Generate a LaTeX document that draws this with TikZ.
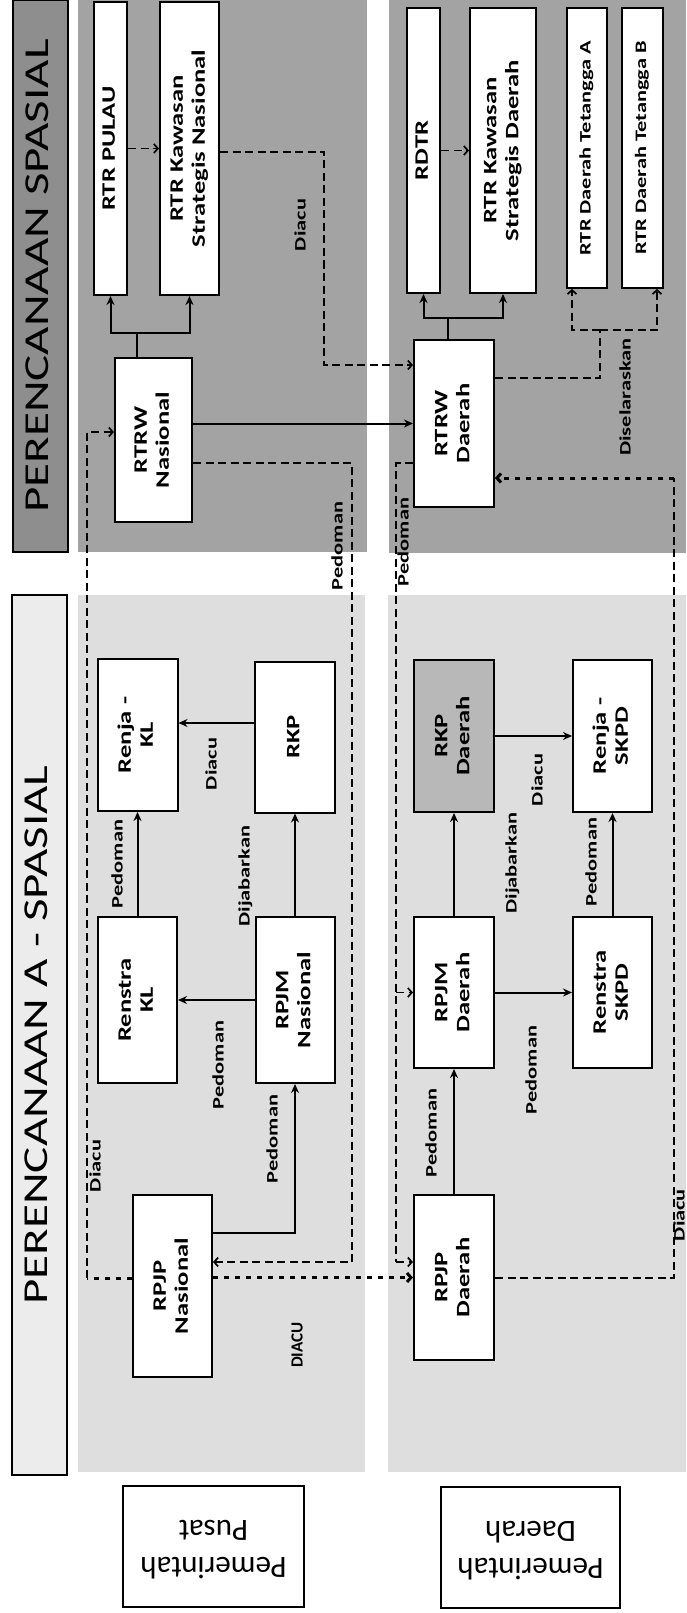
\documentclass[tikz,border=0pt]{standalone}
\usepackage{fontspec}
\setmainfont{Carlito}
\usepackage{graphicx}
\usetikzlibrary{arrows.meta}

\definecolor{paneldark}{HTML}{A3A3A3}
\definecolor{panellight}{HTML}{DEDEDE}
\definecolor{hdrdark}{HTML}{8E8E8E}
\definecolor{hdrlight}{HTML}{ECECEC}
\definecolor{boxgray}{HTML}{B8B8B8}

% vertical, stretched text (reads bottom to top)
\newcommand{\vt}[1]{\rotatebox{90}{\scalebox{1.4}[1]{\begin{tabular}{@{}c@{}}#1\end{tabular}}}}

\begin{document}
\begin{tikzpicture}[x=1pt, y=-1pt,
  box/.style={draw, line width=2pt, fill=white, inner sep=0pt, font=\bfseries\fontsize{19}{22}\selectfont},
  hdr/.style={draw, line width=1.5pt, inner sep=0pt, font=\fontsize{35}{38}\selectfont},
  pbox/.style={draw, line width=2pt, fill=white, inner sep=0pt, font=\fontsize{31}{37}\selectfont},
  lbl/.style={inner sep=0pt, font=\bfseries\fontsize{16}{18}\selectfont},
  conn/.style={line width=2pt},
  arr/.style={line width=2pt, -{Stealth[length=9pt, width=8pt]}},
  dashline/.style={line width=1.7pt, dash pattern=on 8pt off 4.5pt},
  dotline/.style={line width=3pt, dash pattern=on 5pt off 6pt},
  tip/.style={-{Straight Barb[length=4pt, width=9pt]}}]

  \useasboundingbox (0,0) rectangle (686,1613);
  \fill[white] (0,0) rectangle (686,1613);

  % Background panels
  \fill[paneldark] (78,0) rectangle (367,552);
  \fill[paneldark] (389,0) rectangle (686,553);
  \fill[panellight] (78,595) rectangle (365,1472);
  \fill[panellight] (388,595) rectangle (686,1472);

  % Headers
  \node[hdr, fill=hdrdark, minimum width=55, minimum height=552] (hspasial) at (40.5,276) {\vt{PERENCANAAN SPASIAL}};
  \node[hdr, fill=hdrlight, minimum width=55, minimum height=880] (hnonspasial) at (39.5,1035) {\vt{PERENCANAAN A - SPASIAL}};

  % Spatial plans
  \node[box, minimum width=33, minimum height=293] (rtrpulau) at (110.5,148.5) {\vt{RTR PULAU}};
  \node[box, minimum width=59, minimum height=293] (rtrksn) at (189.5,148.5) {\vt{RTR Kawasan\\Strategis Nasional}};
  \node[box, minimum width=77, minimum height=164] (rtrwn) at (153.5,440) {\vt{RTRW\\Nasional}};
  \node[box, minimum width=33, minimum height=285] (rdtr) at (423.5,150.5) {\vt{RDTR}};
  \node[box, minimum width=66, minimum height=285] (rtrksd) at (503,150.5) {\vt{RTR Kawasan\\Strategis Daerah}};
  \node[box, minimum width=40, minimum height=280, font=\bfseries\fontsize{16}{18}\selectfont] (teta) at (587,148) {\vt{RTR Daerah Tetangga A}};
  \node[box, minimum width=41, minimum height=280, font=\bfseries\fontsize{16}{18}\selectfont] (tetb) at (642.5,148) {\vt{RTR Daerah Tetangga B}};
  \node[box, minimum width=80, minimum height=167] (rtrwd) at (454,423.5) {\vt{RTRW\\Daerah}};

  % Development plans
  \node[box, minimum width=80, minimum height=152] (renjakl) at (137.5,735) {\vt{Renja -\\KL}};
  \node[box, minimum width=80, minimum height=151] (rkp) at (295,737) {\vt{RKP}};
  \node[box, minimum width=79, minimum height=166] (renstrakl) at (137.5,1000) {\vt{Renstra\\KL}};
  \node[box, minimum width=79, minimum height=166] (rpjmn) at (295,1000) {\vt{RPJM\\Nasional}};
  \node[box, minimum width=79, minimum height=182] (rpjpn) at (172.5,1286) {\vt{RPJP\\Nasional}};
  \node[box, fill=boxgray, minimum width=80, minimum height=152] (rkpd) at (454,736) {\vt{RKP\\Daerah}};
  \node[box, minimum width=79, minimum height=152] (renjaskpd) at (612.5,736) {\vt{Renja -\\SKPD}};
  \node[box, minimum width=80, minimum height=151] (rpjmd) at (454,992.5) {\vt{RPJM\\Daerah}};
  \node[box, minimum width=79, minimum height=151] (renstraskpd) at (612.5,992.5) {\vt{Renstra\\SKPD}};
  \node[box, minimum width=80, minimum height=165] (rpjpd) at (454,1277.5) {\vt{RPJP\\Daerah}};

  % Government levels
  \node[pbox, minimum width=181, minimum height=121] (ppusat) at (213.5,1546.5) {\rotatebox{180}{\begin{tabular}{@{}c@{}}Pemerintah\\Pusat\end{tabular}}};
  \node[pbox, minimum width=179, minimum height=121] (pdaerah) at (530.5,1547.5) {\rotatebox{180}{\begin{tabular}{@{}c@{}}Pemerintah\\Daerah\end{tabular}}};

  % Junctions and corners
  \coordinate (j1) at (137,333);
  \coordinate (j2) at (448,318);
  \coordinate (k1) at (324,152);
  \coordinate (k2) at (324,365);
  \coordinate (s1) at (600,378);
  \coordinate (s2) at (600,330);
  \coordinate (a1) at (87,1278);
  \coordinate (a2) at (87,432);
  \coordinate (p1) at (352,463);
  \coordinate (p2) at (352,1262);
  \coordinate (q1) at (396,463);
  \coordinate (q2) at (396,1262);
  \coordinate (r1) at (674,1278);
  \coordinate (r2) at (674,478);

  % Spatial connectors
  \draw[conn] (j1) -- (j1 |- rtrwn.north);
  \draw[arr] (j1) -| (rtrpulau);
  \draw[arr] (j1) -| (rtrksn);
  \draw[conn] (j2) -- (j2 |- rtrwd.north);
  \draw[arr] (j2) -| (rdtr);
  \draw[arr] (j2) -| (rtrksd);
  \draw[dashline, tip] (rtrpulau) -- (rtrksn);
  \draw[dashline, tip] (rdtr) -- (rtrksd);
  \draw[arr] (rtrwn.east |- rtrwd.west) -- (rtrwd.west);
  \draw[dashline, tip] (k1 -| rtrksn.east) -- (k1) -- (k2) -- (k2 -| rtrwd.west);
  \draw[dashline] (s1 -| rtrwd.east) -- (s1) -- (s2);
  \draw[dashline, tip] (s2) -| ([xshift=6pt]teta.south west);
  \draw[dashline, tip] (s2) -| ([xshift=-7pt]tetb.south east);

  % Development connectors
  \draw[arr] ([yshift=14pt]rkp.west) -- ([yshift=14pt]rkp.west -| renjakl.east);
  \draw[arr] (renstrakl) -- (renjakl);
  \draw[arr] (rpjmn) -- (rkp);
  \draw[arr] (rpjmn) -- (renstrakl);
  \draw[arr] ([yshift=53pt]rpjpn.east) -| (rpjmn);
  \draw[arr] (rkpd) -- (renjaskpd);
  \draw[arr] (rpjmd) -- (rkpd);
  \draw[arr] (renstraskpd) -- (renjaskpd);
  \draw[arr] (rpjmd) -- (renstraskpd);
  \draw[arr] (rpjpd) -- (rpjmd);

  % Cross links
  \draw[dotline, tip] (rpjpn.east |- rpjpd.west) -- (rpjpd.west);
  \draw[dotline] (rpjpn.west |- a1) -- (a1);
  \draw[dashline, tip] (a1) -- (a2) -- (a2 -| rtrwn.west);
  \draw[dashline, tip] (p1 -| rtrwn.east) -- (p1) -- (p2) -- (p2 -| rpjpn.east);
  \draw[dashline] (q1 -| rtrwd.west) -- (q1) -- (q2);
  \draw[dashline, tip] (q2) -- (q2 -| rpjpd.west);
  \draw[dashline, tip] (q1 |- rpjmd) -- (rpjmd.west);
  \draw[dashline] (rpjpd.east |- r1) -- (r1) -- (r2);
  \draw[dotline, tip] (r2) -- (r2 -| rtrwd.east);

  % Labels
  \node[lbl] (ldiacuksn) at (302,225) {\vt{Diacu}};
  \node[lbl] (ldiselaras) at (627,397) {\vt{Diselaraskan}};
  \node[lbl] (lpedomann) at (339,546) {\vt{Pedoman}};
  \node[lbl] (lpedomand) at (405,542) {\vt{Pedoman}};
  \node[lbl] (ldiacul) at (97,1166) {\vt{Diacu}};
  \node[lbl, font=\bfseries\fontsize{17}{18}\selectfont] (ldiacubig) at (297,1345) {\rotatebox{90}{DIACU}};
  \node[lbl] (ldiacurkp) at (213,764) {\vt{Diacu}};
  \node[lbl] (lpedoman1) at (119,864) {\vt{Pedoman}};
  \node[lbl] (ldijabar1) at (246,876) {\vt{Dijabarkan}};
  \node[lbl] (lpedoman2) at (220,1065) {\vt{Pedoman}};
  \node[lbl] (lpedoman3) at (274,1139) {\vt{Pedoman}};
  \node[lbl] (ldiacurkpd) at (539,780) {\vt{Diacu}};
  \node[lbl] (ldijabar2) at (513,863) {\vt{Dijabarkan}};
  \node[lbl] (lpedoman4) at (593,862) {\vt{Pedoman}};
  \node[lbl] (lpedoman5) at (533,1070) {\vt{Pedoman}};
  \node[lbl] (lpedoman6) at (433,1133) {\vt{Pedoman}};
  \node[lbl] (ldiacur) at (681,1215) {\vt{Diacu}};
\end{tikzpicture}
\end{document}
